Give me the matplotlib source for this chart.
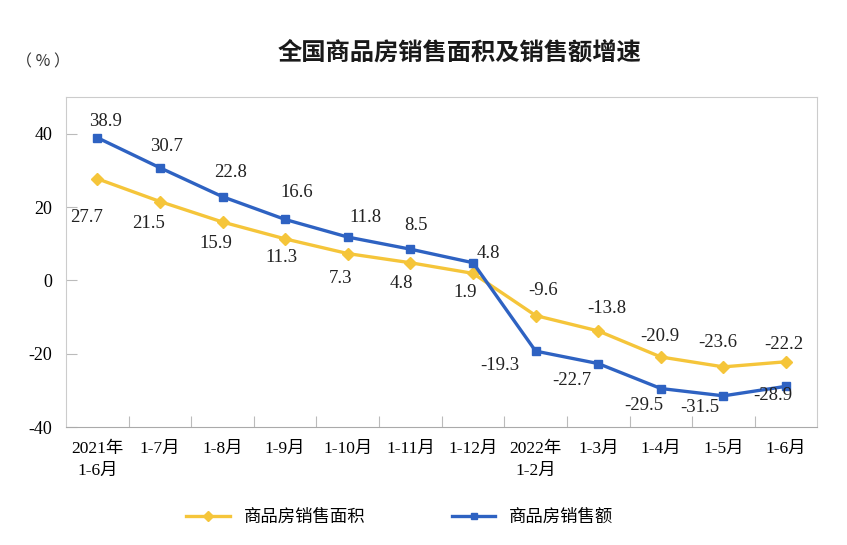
import matplotlib
matplotlib.use("Agg")
import matplotlib.pyplot as plt

plt.rcParams['font.family'] = ['Liberation Serif', 'Noto Sans CJK SC']

# data
categories = ["2021年\n1-6月", "1-7月", "1-8月", "1-9月", "1-10月", "1-11月", "1-12月",
              "2022年\n1-2月", "1-3月", "1-4月", "1-5月", "1-6月"]
area = [27.7, 21.5, 15.9, 11.3, 7.3, 4.8, 1.9, -9.6, -13.8, -20.9, -23.6, -22.2]
sales = [38.9, 30.7, 22.8, 16.6, 11.8, 8.5, 4.8, -19.3, -22.7, -29.5, -31.5, -28.9]

# label offsets in pixels (dx, dy), dy upward
area_off = [(-11, -39), (-11, -22), (-7, -21), (-4, -19), (-7, -25), (-9, -21),
            (-8, -19), (7, 25), (9, 22), (-1, 20), (-6, 24), (-2, 17)]
sales_off = [(8, 16), (7, 21), (8, 24), (12, 27), (18, 20), (6, 24),
             (15, 9), (-36, -14), (-26, -17), (-17, -17), (-24, -12), (-13, -9)]

yellow = "#F5C53A"
blue = "#2E62C2"

fig = plt.figure(figsize=(8.47, 5.45), dpi=100)
ax = fig.add_axes([0.078, 0.2165, 0.887, 0.6055])

x = list(range(len(categories)))
ax.plot(x, area, color=yellow, lw=2.4, marker="D", ms=6, label="商品房销售面积")
ax.plot(x, sales, color=blue, lw=2.4, marker="s", ms=6, label="商品房销售额")

for i in x:
    ax.annotate(f"{area[i]}", (i, area[i]), xytext=area_off[i], textcoords="offset pixels",
                ha="center", va="center", fontsize=13.5, color="#222222")
    ax.annotate(f"{sales[i]}", (i, sales[i]), xytext=sales_off[i], textcoords="offset pixels",
                ha="center", va="center", fontsize=13.5, color="#222222")

ax.set_xlim(-0.5, len(categories) - 0.5)
ax.set_ylim(-40, 50)
ax.set_yticks([-40, -20, 0, 20, 40])
ax.set_yticklabels(["-40", "-20", "0", "20", "40"], fontsize=13)
ax.set_xticks([i + 0.5 for i in x[:-1]])
ax.set_xticklabels([])
ax.set_xticks(x, minor=True)
ax.set_xticklabels(categories, minor=True, fontsize=12.5, va="top", linespacing=1.5)
ax.tick_params(axis="x", which="major", direction="in", length=8, color="#BBBBBB")
ax.tick_params(axis="x", which="minor", length=0, pad=10)
ax.tick_params(axis="y", direction="in", length=8, color="#BBBBBB", pad=10)

for s in ["top", "right", "left"]:
    ax.spines[s].set_color("#CCCCCC")
ax.spines["bottom"].set_color("#AAAAAA")

fig.text(0.543, 0.903, "全国商品房销售面积及销售额增速", ha="center", va="center",
         fontsize=17.5, fontweight="bold", family="Noto Sans CJK SC", color="#1a1a1a")
fig.text(0.051, 0.887, "（ % ）", ha="center", va="center", fontsize=11.5,
         family=["Noto Sans CJK SC"], color="#333333")

leg = fig.legend(loc="center", bbox_to_anchor=(0.472, 0.052), ncol=2, frameon=False,
                 prop={"family": "Noto Sans CJK SC", "size": 12.5}, handlelength=2.5,
                 columnspacing=5.0, markerscale=0.8)

fig.savefig("out.png", dpi=100)
